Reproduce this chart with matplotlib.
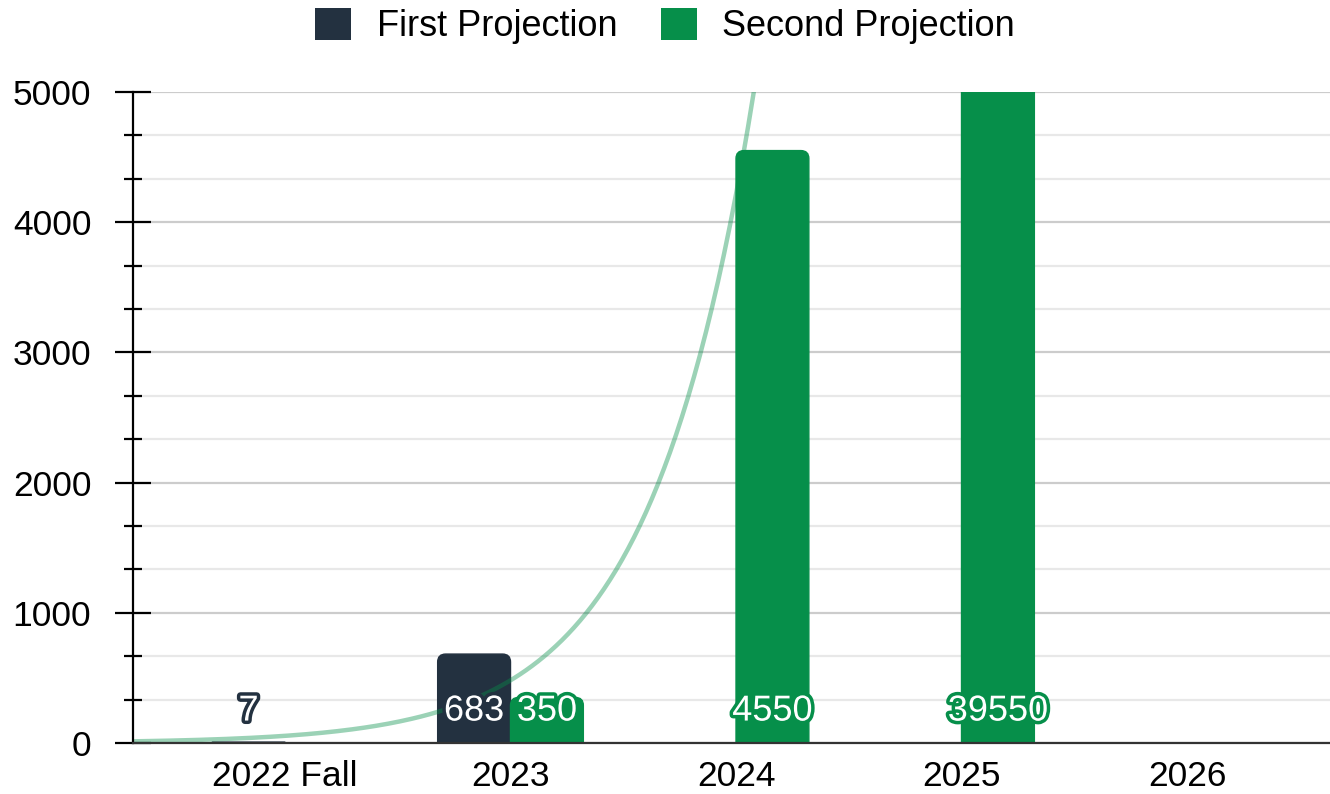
import numpy as np
import matplotlib
matplotlib.use("Agg")
import matplotlib.pyplot as plt
from matplotlib.patches import FancyBboxPatch, Patch
from matplotlib.ticker import MultipleLocator, AutoMinorLocator
import matplotlib.patheffects as pe

# ---- data ----
categories = ["2022 Fall", "2023", "2024", "2025", "2026"]
first_projection = [7, 683, None, None, None]
second_projection = [None, 350, 4550, 39550, None]
# trend curve values at the first three category centres
trend_at_category = [55, 481, 4216]

series_names = ["First Projection", "Second Projection"]
DARK = "#233140"
GREEN = "#068f4a"

plt.rcParams['font.family'] = ['Liberation Sans', 'DejaVu Sans']

W, H, DPI = 1330, 794, 100
fig = plt.figure(figsize=(W / DPI, H / DPI), dpi=DPI)
ax = fig.add_axes([133 / W, 51 / H, (W - 133) / W, (743 - 92) / H])

xlim = (-0.674, 4.634)
ylim = (0, 5000)
ax.set_xlim(*xlim)
ax.set_ylim(*ylim)

x = np.arange(len(categories))
bw = 0.323

def vals(v):
    return np.array([np.nan if a is None else a for a in v], dtype=float)

f_vals = vals(first_projection)
s_vals = vals(second_projection)

bars1 = ax.bar(x - bw / 2, np.nan_to_num(f_vals), bw, color=DARK, zorder=3)
bars2 = ax.bar(x + bw / 2, np.nan_to_num(s_vals), bw, color=GREEN, zorder=3)

# pixel <-> data scale for rounded tops
ax_w_px = (W - 133)
ax_h_px = (743 - 92)
xdpp = (xlim[1] - xlim[0]) / ax_w_px
ydpp = (ylim[1] - ylim[0]) / ax_h_px
aspect = ydpp / xdpp
radius_px = 8

for bars, col, v in ((bars1, DARK, f_vals), (bars2, GREEN, s_vals)):
    for rect, val in zip(bars, v):
        rect.set_visible(False)
        if np.isnan(val):
            continue
        bx, by = rect.get_x(), rect.get_y()
        bwid, bh = rect.get_width(), rect.get_height()
        r_y = radius_px * ydpp
        r_y = min(r_y, bh / 2 if bh > 0 else r_y)
        r_x = r_y / aspect
        extra = 2 * radius_px * ydpp
        p = FancyBboxPatch((bx, by - extra), bwid, bh + extra,
                           boxstyle=f"round,pad=0,rounding_size={r_x}",
                           mutation_aspect=aspect, facecolor=col,
                           edgecolor=col, lw=1.0, zorder=3)
        ax.add_patch(p)

# trend curve (exponential fit through values)
coef = np.polyfit(np.arange(len(trend_at_category)), np.log(trend_at_category), 1)
xx = np.linspace(xlim[0], xlim[1], 400)
ax.plot(xx, np.exp(np.polyval(coef, xx)), color=GREEN, alpha=0.4, lw=3.2,
        zorder=4, solid_capstyle="butt")

# data labels
for bars, col, v in ((bars1, DARK, f_vals), (bars2, GREEN, s_vals)):
    for rect, val in zip(bars, v):
        if np.isnan(val):
            continue
        cx = rect.get_x() + rect.get_width() / 2
        t = ax.annotate(f"{int(val)}", (cx, 0), xytext=(0, 23),
                        textcoords="offset points", ha="center", va="center",
                        fontsize=26, color="white", zorder=6,
                        annotation_clip=False)
        t.set_path_effects([pe.withStroke(linewidth=5, foreground=col)])

# axes styling
ax.set_xticks(x)
ax.set_xticklabels(categories)
ax.yaxis.set_major_locator(MultipleLocator(1000))
ax.yaxis.set_minor_locator(AutoMinorLocator(3))
ax.grid(axis="y", which="major", color="#cccccc", lw=1.6, zorder=0)
ax.grid(axis="y", which="minor", color="#e8e8e8", lw=1.6, zorder=0)
ax.set_axisbelow(True)

for s in ("top", "right"):
    ax.spines[s].set_visible(False)
ax.spines["left"].set_color("black")
ax.spines["left"].set_linewidth(1.6)
ax.spines["bottom"].set_color("#333333")
ax.spines["bottom"].set_linewidth(1.6)
ax.spines["left"].set_zorder(5)
ax.spines["bottom"].set_zorder(5)

ax.tick_params(axis="y", which="major", direction="inout", length=26, width=1.6,
               labelsize=25.5, pad=17, color="black")
ax.tick_params(axis="y", which="minor", direction="inout", length=13, width=1.6,
               color="black")
ax.tick_params(axis="x", which="both", length=0, labelsize=25.5, pad=12)

handles = [Patch(facecolor=DARK, edgecolor="none"),
           Patch(facecolor=GREEN, edgecolor="none")]
fig.legend(handles, series_names, loc="center", bbox_to_anchor=(0.5, 1 - 26 / H),
           ncol=2, frameon=False, fontsize=26, handlelength=1.0,
           handleheight=1.0, handletextpad=0.7, columnspacing=1.2,
           borderaxespad=0)

fig.savefig("out.png", dpi=DPI)
